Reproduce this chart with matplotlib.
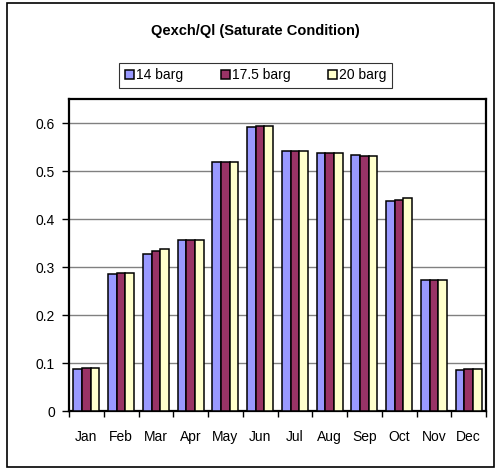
import matplotlib
matplotlib.use("Agg")
from matplotlib import pyplot as plt
from matplotlib.patches import Rectangle
import numpy as np

plt.rcParams['font.family'] = ['Liberation Sans', 'DejaVu Sans']

months = ["Jan", "Feb", "Mar", "Apr", "May", "Jun",
          "Jul", "Aug", "Sep", "Oct", "Nov", "Dec"]
series_names = ["14 barg", "17.5 barg", "20 barg"]
q_14 = [0.087, 0.286, 0.328, 0.357, 0.518, 0.593, 0.543, 0.538, 0.534, 0.438, 0.274, 0.085]
q_175 = [0.090, 0.288, 0.333, 0.357, 0.518, 0.595, 0.543, 0.538, 0.532, 0.440, 0.274, 0.088]
q_20 = [0.090, 0.288, 0.337, 0.357, 0.518, 0.595, 0.543, 0.538, 0.532, 0.443, 0.274, 0.088]
colors = ["#9999FF", "#993366", "#FFFFCC"]

fig = plt.figure(figsize=(5, 4.7), dpi=100)
# outer chart border
fig.patches.append(Rectangle((0.014, 0.006), 0.974, 0.988, transform=fig.transFigure,
                             fill=False, edgecolor="black", linewidth=1.2))
ax = fig.add_axes([0.138, 0.1255, 0.834, 0.6635])

x = np.arange(len(months))
w = 0.25
for i, (vals, name, c) in enumerate(zip([q_14, q_175, q_20], series_names, colors)):
    ax.bar(x + (i - 1) * w, vals, w, color=c, edgecolor="black", linewidth=1.1,
           label=name, zorder=3)

ax.set_xlim(-0.5, len(months) - 0.5)
ax.set_ylim(0, 0.65)
ax.set_yticks(np.arange(0, 0.61, 0.1))
ax.set_yticklabels(["0", "0.1", "0.2", "0.3", "0.4", "0.5", "0.6"], fontsize=10)
ax.yaxis.grid(True, color="#808080", linewidth=1.0, zorder=0)

ax.set_xticks(x)
ax.set_xticklabels(months, fontsize=10)
ax.tick_params(axis="x", length=0, pad=14)
ax.set_xticks(np.arange(-0.5, len(months), 1.0), minor=True)
ax.tick_params(axis="x", which="minor", length=4, width=1, direction="out")
ax.tick_params(axis="y", length=5, width=1, direction="out", pad=5)

for s in ax.spines.values():
    s.set_linewidth(1.6)
    s.set_color("black")

fig.text(0.51, 0.935, "Qexch/Ql (Saturate Condition)", ha="center", va="center",
         fontsize=10.5, fontweight="bold")

leg = fig.legend(loc="center", bbox_to_anchor=(0.511, 0.84), ncol=3, fontsize=10,
                 frameon=True, fancybox=False, edgecolor="black",
                 handlelength=0.65, handleheight=0.65, handletextpad=0.15,
                 columnspacing=2.7, borderpad=0.4)
leg.get_frame().set_linewidth(0.8)

fig.savefig("out.png", dpi=100)
